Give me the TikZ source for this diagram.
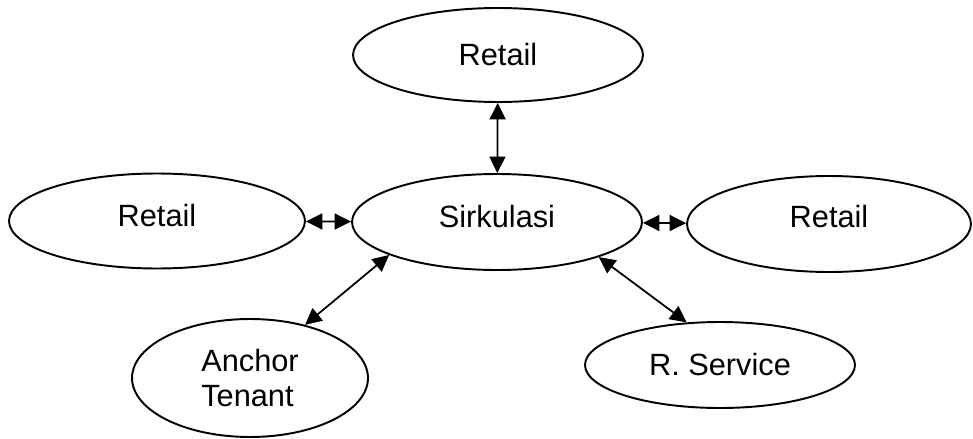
\documentclass[tikz,border=0pt]{standalone}
\usepackage{fontspec}
\setmainfont{Liberation Sans}
\usetikzlibrary{arrows.meta,shapes.geometric}

\tikzset{
  ruang/.style={draw, ellipse, line width=1.1pt, inner sep=0pt, font=\fontsize{17.5}{19.5}\selectfont},
  hubung/.style={{Triangle[length=0.33cm,width=0.32cm]}-{Triangle[length=0.33cm,width=0.32cm]}, line width=1pt}
}

\begin{document}
\begin{tikzpicture}[x=0.02cm,y=-0.02cm]
\useasboundingbox (0,0) rectangle (973,439);
\node[ruang, minimum width=5.8cm, minimum height=1.88cm] (atas) at (498,55) {Retail};
\node[ruang, minimum width=5.92cm, minimum height=1.9cm, text depth=0.24cm] (kiri) at (157,221) {Retail};
\node[ruang, minimum width=5.8cm, minimum height=1.92cm, text depth=0.24cm] (sirk) at (497,222) {Sirkulasi};
\node[ruang, minimum width=5.68cm, minimum height=1.92cm, text depth=0.3cm] (kanan) at (829,224) {Retail};
\node[ruang, minimum width=4.72cm, minimum height=2.36cm, align=left] (anchor) at (250,378) {Anchor\\Tenant};
\node[ruang, minimum width=5.4cm, minimum height=1.72cm] (service) at (720,365) {R. Service};
\draw[hubung] (atas) -- (sirk);
\draw[hubung] (kiri) -- (sirk);
\draw[hubung] (sirk) -- (kanan);
\draw[hubung] (sirk.197) -- (anchor.44);
\draw[hubung] (sirk.341) -- (service.128);
\end{tikzpicture}
\end{document}
